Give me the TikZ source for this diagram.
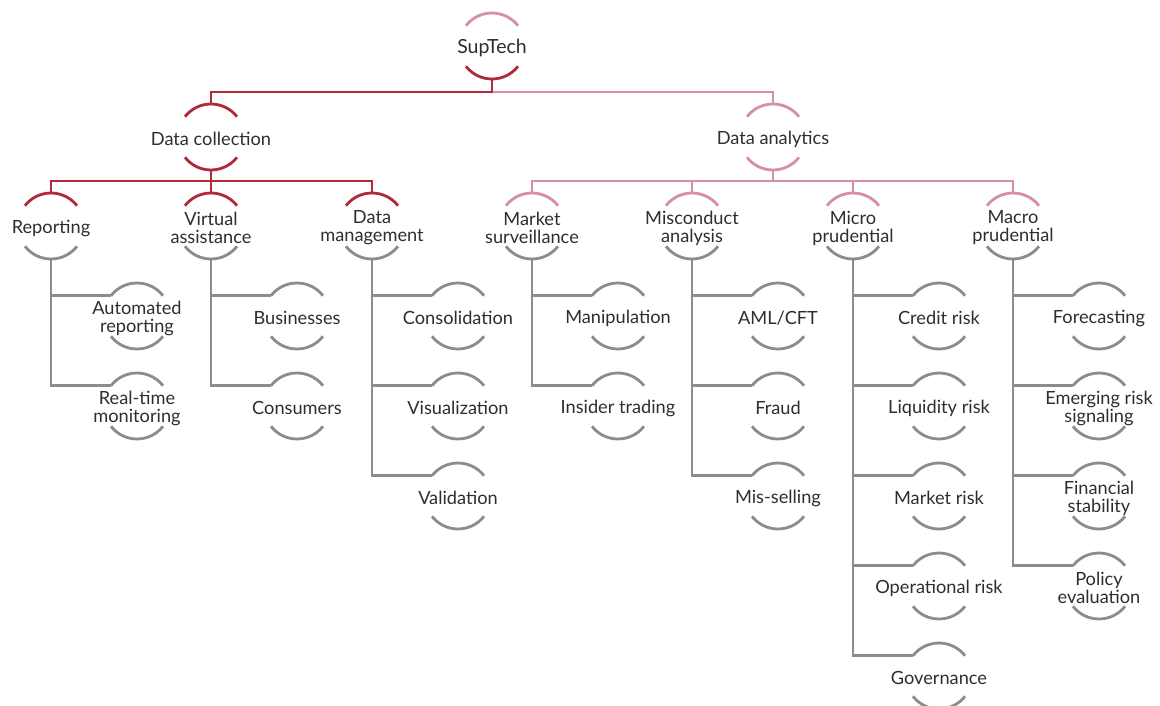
\documentclass[tikz,border=0pt]{standalone}
\usepackage{fontspec}
\setmainfont{Lato}
\usetikzlibrary{calc}
\definecolor{dred}{HTML}{B02A3A}
\definecolor{pinkc}{HTML}{D690A4}
\definecolor{greyc}{HTML}{8C8C8C}
\definecolor{txt}{HTML}{2E2E2E}
\tikzset{
  lbl/.style={align=center,inner sep=0pt,font=\fontsize{18.2}{18}\selectfont,text=txt,yshift=-2pt},
  rl/.style={draw=dred,line width=2.8pt},
  pl/.style={draw=pinkc,line width=2.8pt},
  gl/.style={draw=greyc,line width=2.8pt},
}
% arcs and connectors are measured from the circle centre, 2pt above the text centre
\newcommand\toparc[2]{\draw[#1] ([shift={(38:33pt)},yshift=2pt]#2.center) arc[start angle=38,end angle=142,radius=33pt];}
\newcommand\botarc[2]{\draw[#1] ([shift={(-38:33pt)},yshift=2pt]#2.center) arc[start angle=-38,end angle=-142,radius=33pt];}
\begin{document}
\begin{tikzpicture}[x=1pt,y=1pt]
\useasboundingbox[fill=white] (0,0) rectangle (1160,-706);
% level 0,1
\node[lbl,font=\fontsize{19.5}{19}\selectfont] (sup) at (492,-46) {SupTech};
\node[lbl] (dc) at (211,-137) {Data collection};
\node[lbl] (da) at (773,-137) {Data analytics};
% level 2
\node[lbl] (rep) at (51,-226) {Reporting};
\node[lbl] (va) at (211,-226) {Virtual\\assistance};
\node[lbl] (dm) at (372,-226) {Data\\management};
\node[lbl] (ms) at (532,-226) {Market\\surveillance};
\node[lbl] (mc) at (692,-226) {Misconduct\\analysis};
\node[lbl] (mi) at (853,-226) {Micro\\prudential};
\node[lbl] (ma) at (1013,-226) {Macro\\prudential};
% leaves
\node[lbl] (ar) at (137,-316) {Automated\\reporting};
\node[lbl] (rt) at (137,-406) {Real-time\\monitoring};
\node[lbl] (bu) at (297,-316) {Businesses};
\node[lbl] (co) at (297,-406) {Consumers};
\node[lbl] (cons) at (458,-316) {Consolidation};
\node[lbl] (vis) at (458,-406) {Visualization};
\node[lbl] (val) at (458,-496) {Validation};
\node[lbl] (man) at (618,-316) {Manipulation};
\node[lbl] (ins) at (618,-406) {Insider trading};
\node[lbl] (aml) at (778,-316) {AML/CFT};
\node[lbl] (fr) at (778,-406) {Fraud};
\node[lbl] (mis) at (778,-496) {Mis-selling};
\node[lbl] (cr) at (939,-316) {Credit risk};
\node[lbl] (lr) at (939,-406) {Liquidity risk};
\node[lbl] (mr) at (939,-496) {Market risk};
\node[lbl] (opr) at (939,-586) {Operational risk};
\node[lbl] (gov) at (939,-676) {Governance};
\node[lbl] (fo) at (1099,-316) {Forecasting};
\node[lbl] (em) at (1099,-406) {Emerging risk\\signaling};
\node[lbl] (fs) at (1099,-496) {Financial\\stability};
\node[lbl] (pe) at (1099,-586) {Policy\\evaluation};
% arcs
\toparc{pl}{sup}\botarc{rl}{sup}
\toparc{rl}{dc}\botarc{rl}{dc}
\toparc{pl}{da}\botarc{pl}{da}
\foreach \n in {rep,va,dm}{\toparc{rl}{\n}\botarc{gl}{\n}}
\foreach \n in {ms,mc,mi,ma}{\toparc{pl}{\n}\botarc{gl}{\n}}
\foreach \n in {ar,rt,bu,co,cons,vis,val,man,ins,aml,fr,mis,cr,lr,mr,opr,gov,fo,em,fs,pe}{\toparc{gl}{\n}\botarc{gl}{\n}}
% top connectors
\draw[pl] ([yshift=-31pt]sup.center) -- ++(0,-13) -| ([yshift=35pt]da.center);
\draw[rl] ([yshift=-31pt]sup.center) -- ++(0,-13) -| ([yshift=35pt]dc.center);
\foreach \c in {rep,va,dm}{\draw[rl] ([yshift=-31pt]dc.center) -- ++(0,-11) -| ([yshift=35pt]\c.center);}
\foreach \c in {ms,mc,mi,ma}{\draw[pl] ([yshift=-31pt]da.center) -- ++(0,-11) -| ([yshift=35pt]\c.center);}
% leaf connectors
\foreach \p/\c in {rep/ar,rep/rt,va/bu,va/co,dm/cons,dm/vis,dm/val,ms/man,ms/ins,mc/aml,mc/fr,mc/mis,mi/cr,mi/lr,mi/mr,mi/opr,mi/gov,ma/fo,ma/em,ma/fs,ma/pe}{
  \draw[gl] ([yshift=-31pt]\p.center) |- ([shift={(142:33pt)},yshift=2pt]\c.center);}
\end{tikzpicture}
\end{document}
